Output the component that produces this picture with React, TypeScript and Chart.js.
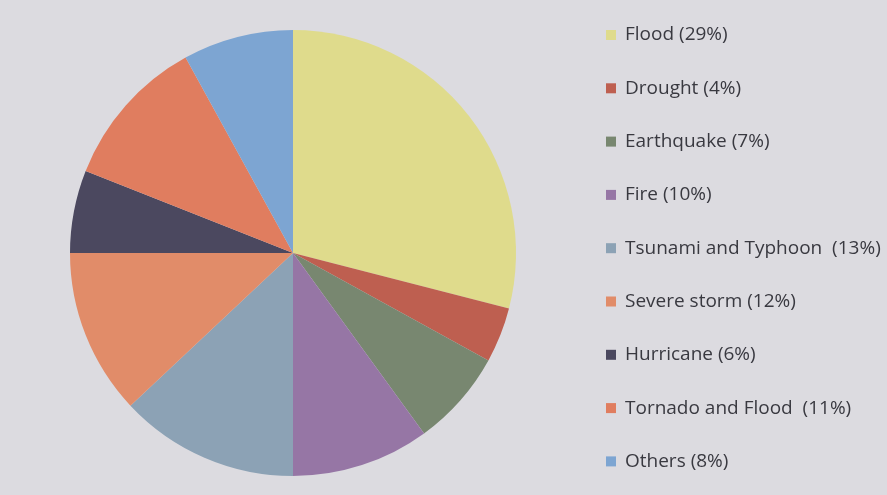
import React, { useEffect, useRef } from "react";
import { Chart, registerables } from "chart.js";

Chart.register(...registerables);

const categories = [
  "Flood",
  "Drought",
  "Earthquake",
  "Fire",
  "Tsunami and Typhoon",
  "Severe storm",
  "Hurricane",
  "Tornado and Flood",
  "Others",
];
const shares = [29, 4, 7, 10, 13, 12, 6, 11, 8];
const legendLabels = [
  "Flood (29%)",
  "Drought (4%)",
  "Earthquake (7%)",
  "Fire (10%)",
  "Tsunami and Typhoon  (13%)",
  "Severe storm (12%)",
  "Hurricane (6%)",
  "Tornado and Flood  (11%)",
  "Others (8%)",
];
const sliceColors = [
  "#dfdb8c",
  "#be5f50",
  "#788770",
  "#9676a5",
  "#8ca2b5",
  "#e18c69",
  "#4b485f",
  "#e07d5f",
  "#7da5d2",
];

const BG = "#dcdbe0";

const sideLegend = {
  id: "sideLegend",
  afterDraw(chart: any) {
    const ctx = chart.ctx;
    const labels: string[] = legendLabels;
    const colors = chart.data.datasets[0].backgroundColor as string[];
    ctx.save();
    ctx.font = '19px "Open Sans"';
    ctx.textBaseline = "middle";
    labels.forEach((t, i) => {
      const y = 35 + i * 53.3;
      ctx.fillStyle = colors[i];
      ctx.fillRect(606, y - 5, 10, 10);
      ctx.fillStyle = "#393940";
      ctx.fillText(t, 625, y);
    });
    ctx.restore();
  },
};

export default function App() {
  const ref = useRef<HTMLCanvasElement | null>(null);
  useEffect(() => {
    if (!ref.current) return;
    const chart = new Chart(ref.current, {
      type: "pie",
      data: {
        labels: categories,
        datasets: [
          {
            data: shares,
            backgroundColor: sliceColors,
            borderWidth: 0,
          },
        ],
      },
      options: {
        animation: false,
        responsive: false,
        layout: { padding: { left: 70, right: 371, top: 30, bottom: 19 } },
        plugins: {
          legend: { display: false },
          tooltip: { enabled: false },
        },
      },
      plugins: [sideLegend],
    });
    return () => chart.destroy();
  }, []);
  return (
    <div
      style={{
        position: "fixed",
        left: 0,
        top: 0,
        width: 887,
        height: 495,
        background: BG,
      }}
    >
      <canvas ref={ref} width={887} height={495} />
    </div>
  );
}
